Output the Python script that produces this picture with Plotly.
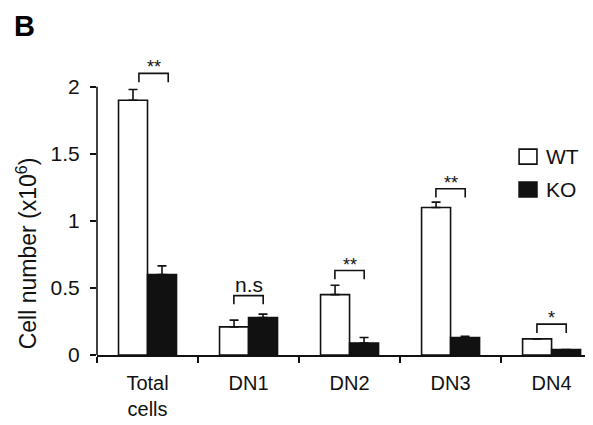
import plotly.graph_objects as go

categories = ["Total<br>cells", "DN1", "DN2", "DN3", "DN4"]
wt_values = [1.90, 0.21, 0.45, 1.10, 0.12]
wt_errors = [0.08, 0.05, 0.07, 0.04, None]
ko_values = [0.60, 0.28, 0.09, 0.13, 0.04]
ko_errors = [0.065, 0.025, 0.04, 0.01, None]
sig_labels = ["**", "n.s", "**", "**", "*"]
sig_bracket_top = [2.10, 0.443, 0.63, 1.24, 0.23]
sig_bracket_center = [0.06, 1.0, 2.0, 3.0, 4.0]
y_ticks = [0, 0.5, 1, 1.5, 2]
y_tick_labels = ["0", "0.5", "1", "1.5", "2"]

FONT = "Liberation Sans, Arial, sans-serif"
INK = "#111111"

fig = go.Figure()
fig.add_trace(go.Bar(
    name="WT", x=categories, y=wt_values,
    marker=dict(color="white", line=dict(color=INK, width=1.6)),
    error_y=dict(type="data", array=wt_errors, arrayminus=[0] * 5, symmetric=False,
                 color=INK, thickness=1.6, width=4.5),
    showlegend=False,
))
fig.add_trace(go.Bar(
    name="KO", x=categories, y=ko_values,
    marker=dict(color=INK, line=dict(color=INK, width=1.6)),
    error_y=dict(type="data", array=ko_errors, arrayminus=[0] * 5, symmetric=False,
                 color=INK, thickness=1.6, width=4.5),
    showlegend=False,
))

half = 0.145
leg = 0.065
for lab, top, c in zip(sig_labels, sig_bracket_top, sig_bracket_center):
    x0, x1 = c - half, c + half
    fig.add_shape(type="path", xref="x", yref="y",
                  path=f"M {x0},{top - leg} L {x0},{top} L {x1},{top} L {x1},{top - leg}",
                  line=dict(color=INK, width=1.6))
    fig.add_annotation(x=c, y=top, xref="x", yref="y", text=lab, showarrow=False,
                       yanchor="bottom", yshift=(-6 if lab != "n.s" else -2),
                       font=dict(family=FONT, size=(18 if lab != "n.s" else 21), color=INK))

# y axis line only from 0 to 2
fig.add_shape(type="line", xref="paper", yref="y", x0=0, x1=0, y0=0, y1=2,
              line=dict(color=INK, width=1.6))

# legend (manual)
leg_items = [("WT", "white", 0.647, 0.698), ("KO", INK, 0.536, 0.586)]
for name, col, y0, y1 in leg_items:
    fig.add_shape(type="rect", xref="paper", yref="paper", x0=0.851, x1=0.887, y0=y0, y1=y1,
                  fillcolor=col, line=dict(color=INK, width=1.6))
    fig.add_annotation(x=0.901, y=(y0 + y1) / 2, xref="paper", yref="paper", text=name,
                       showarrow=False, xanchor="left", yanchor="middle",
                       font=dict(family=FONT, size=21, color=INK))

# y title
fig.add_annotation(x=-0.141, y=0.345, xref="paper", yref="paper",
                   text="Cell number (x10<sup>6</sup>)", textangle=-90, showarrow=False,
                   xanchor="center", yanchor="middle",
                   font=dict(family=FONT, size=23, color=INK))
# panel label
fig.add_annotation(x=-0.172, y=1.175, xref="paper", yref="paper", text="<b>B</b>",
                   showarrow=False, xanchor="left", yanchor="top",
                   font=dict(family=FONT, size=29, color="black"))

# page body has an 8px margin: shift the figure content up/left accordingly
fig.update_layout(
    width=585, height=417,
    margin=dict(l=89, r=0, t=52, b=70),
    paper_bgcolor="white", plot_bgcolor="white",
    barmode="group", bargap=0.426, bargroupgap=0,
    font=dict(family=FONT, size=21, color=INK),
    xaxis=dict(type="category", range=[-0.5, 4.41], showline=True, linecolor=INK, linewidth=1.6,
               ticks="outside", tickson="boundaries", ticklen=6, tickwidth=1.6, tickcolor=INK,
               showgrid=False, zeroline=False, ticklabelstandoff=9,
               tickfont=dict(family=FONT, size=20, color=INK)),
    yaxis=dict(range=[0, 2.2], tickvals=y_ticks, ticktext=y_tick_labels, showline=False,
               ticks="outside", ticklen=6, tickwidth=1.6, tickcolor=INK, showgrid=False,
               zeroline=False, ticklabelstandoff=6,
               tickfont=dict(family=FONT, size=21, color=INK)),
)

fig.write_html("out.html")
